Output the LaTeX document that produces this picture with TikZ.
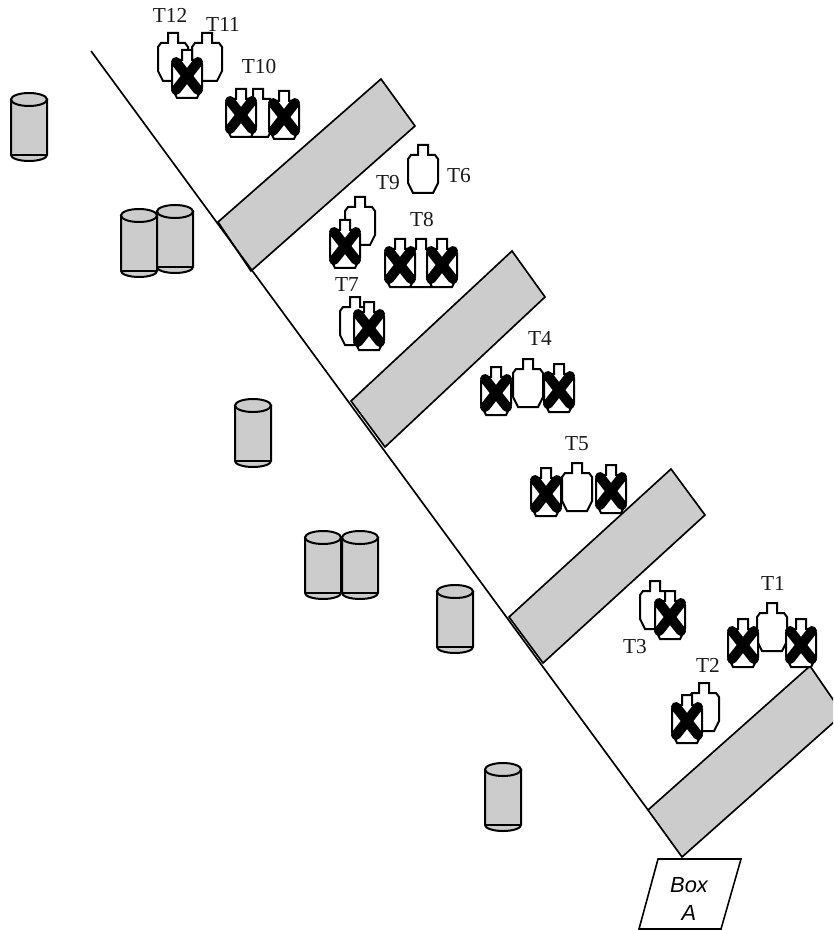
\documentclass[tikz,border=0pt]{standalone}
\usepackage{fontspec}
\setmainfont{Liberation Serif}
\setsansfont{Liberation Sans}
\definecolor{panel}{HTML}{CCCCCC}
\tikzset{
  outline/.style={draw=black,line width=1.5pt,line join=miter},
  silhouette/.style={outline,fill=white},
  crossbar/.style={draw=black,line width=7.5pt,line cap=round},
  wall/.style={draw=black,line width=1.25pt,fill=panel},
  barrel/.style={draw=black,line width=1.5pt,fill=panel},
  lbl/.style={font=\fontsize{16pt}{18pt}\selectfont,inner sep=0pt,text=black!90},
  boxtxt/.style={font=\sffamily\itshape\fontsize{16.4pt}{21pt}\selectfont,inner sep=0pt,align=center},
  pics/target/.style={code={
    \path[silhouette] (-5,0)--(5,0)--(5,10)--(12,10)--(15,14)--(15,38)--(10,48)--(-10,48)--(-15,38)--(-15,14)--(-12,10)--(-5,10)--cycle;
  }},
  pics/xtarget/.style={code={
    \path[silhouette] (-5,0)--(5,0)--(5,10)--(12,10)--(15,14)--(15,38)--(10,48)--(-10,48)--(-15,38)--(-15,14)--(-12,10)--(-5,10)--cycle;
    \path[crossbar] (-11,12)--(11,40);
    \path[crossbar] (11,12)--(-11,40);
  }},
  pics/drum/.style={code={
    \path[barrel] (-18,6.5)--(-18,62) arc[start angle=180,end angle=0,x radius=18,y radius=6]--(18,6.5)--cycle;
    \path[barrel] (0,6.5) ellipse[x radius=18,y radius=6.5];
    \draw[black,line width=1pt] (-18,62)--(18,62);
  }},
}
\begin{document}
\begin{tikzpicture}[x=0.75pt,y=-0.75pt]
\useasboundingbox (0,0) rectangle (833,930);
% walls
\begin{scope}
\clip (0,0) rectangle (833,930);
\path[wall] (218,222)--(381,79)--(415,126)--(251,271)--cycle;
\path[wall] (351,401)--(512,251)--(545,297)--(385,447)--cycle;
\path[wall] (509,617)--(671,469)--(705,515)--(543,663)--cycle;
\path[wall] (648,810)--(810,666)--(843,714)--(682,857)--cycle;
\end{scope}
% diagonal
\coordinate (lineA) at (91,51);
\coordinate (lineB) at (648,810);
\draw[black,line width=1.25pt] (lineA)--(lineB);
% drums
\pic at (29,93) {drum};
\pic at (139,209) {drum};
\pic at (175,205) {drum};
\pic at (253,399) {drum};
\pic at (323,531) {drum};
\pic at (360,531) {drum};
\pic at (455,585) {drum};
\pic at (503,763) {drum};
% targets
\pic at (173,33) {target};
\pic at (207,33) {target};
\pic at (187,50) {xtarget};
\pic at (258,89) {target};
\pic at (241,89) {xtarget};
\pic at (284,91) {xtarget};
\pic at (423,145) {target};
\pic at (360,197) {target};
\pic at (345,220) {xtarget};
\pic at (421,239) {target};
\pic at (400,239) {xtarget};
\pic at (442,239) {xtarget};
\pic at (355,297) {target};
\pic at (369,302) {xtarget};
\pic at (528,359) {target};
\pic at (496,367) {xtarget};
\pic at (559,364) {xtarget};
\pic at (577,463) {target};
\pic at (546,468) {xtarget};
\pic at (611,465) {xtarget};
\pic at (655,581) {target};
\pic at (670,591) {xtarget};
\pic at (772,603) {target};
\pic at (743,619) {xtarget};
\pic at (801,619) {xtarget};
\pic at (704,683) {target};
\pic at (687,695) {xtarget};
% labels
\node[lbl] (t12) at (170,15) {T12};
\node[lbl] (t11) at (223,24) {T11};
\node[lbl] (t10) at (259,67) {T10};
\node[lbl] (t9) at (388,183) {T9};
\node[lbl] (t6) at (459,176) {T6};
\node[lbl] (t8) at (422,220) {T8};
\node[lbl] (t7) at (347,285) {T7};
\node[lbl] (t4) at (540,338) {T4};
\node[lbl] (t5) at (577,444) {T5};
\node[lbl] (t3) at (635,647) {T3};
\node[lbl] (t2) at (708,665) {T2};
\node[lbl] (t1) at (773,583) {T1};
% box
\path[draw=black,line width=1.2pt,fill=white] (658,859)--(741,859)--(721,929)--(639,929)--cycle;
\node[boxtxt] (boxA) at (689,899) {Box\\A};
\end{tikzpicture}
\end{document}
